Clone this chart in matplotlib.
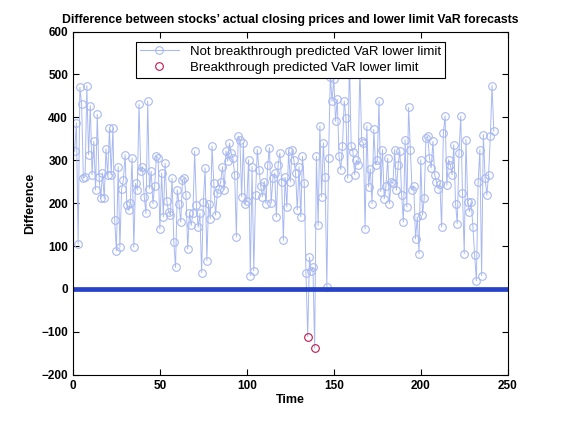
import numpy as np
import matplotlib.pyplot as plt
from matplotlib.lines import Line2D

# difference between actual close and VaR lower limit
seg1 = [321, 387, 105, 470, 431, 258, 262, 474, 313, 427, 266, 344, 231, 407, 262,
        211, 270, 211, 326, 266, 376, 266, 376, 160, 89, 285, 97, 234, 254, 313,
        195, 183, 200, 305, 97, 246, 231, 431, 274, 285, 215, 176, 438, 234, 274,
        199, 239, 309, 305, 140, 270, 168, 293, 205, 180, 172, 258, 109, 50, 231,
        199, 156, 254]
seg2 = [258, 219, 93, 176, 148, 176, 321, 195, 144, 176, 38, 203, 282, 66, 199,
        164, 333, 246, 172, 223, 234, 250, 285, 231, 321, 298, 340, 317, 305, 266,
        121, 356, 348, 215, 340, 199, 205, 301, 31, 285, 42, 219, 325, 278, 240,
        215, 250, 199, 290, 329, 200, 258, 270, 168, 290, 317, 250, 113, 260, 191,
        321, 250]
seg3 = [325, 301, 270, 184, 285, 168, 309, 246, 38, -111, 74, 42, 50, -138, 309,
        148, 380, 215, 340, 260, 5, 305, 495, 438, 490, 391, 442, 309, 278, 333,
        438, 399, 258, 540, 333, 320, 266, 300, 290, 520, 345, 340, 140, 380, 238,
        280, 199, 372, 290, 300, 438, 227, 325, 210, 240, 305, 199, 250, 246, 325,
        230, 290]
seg4 = [321, 219, 156, 348, 191, 423, 325, 231, 240, 117, 168, 82, 301, 172, 211,
        352, 356, 305, 282, 344, 266, 250, 234, 245, 144, 364, 403, 242, 301, 290,
        266, 336, 199, 152, 317, 403, 223, 82, 348, 203, 180, 203, 144, 78, 19,
        250, 325, 31, 360, 258, 219, 266, 356, 474, 368]

diff = np.array(seg1 + seg2 + seg3 + seg4, dtype=float)
t = np.arange(1, len(diff) + 1)
brk = diff < 0
ok_idx = list(np.where(~brk)[0])

plt.rcParams['font.family'] = ['Liberation Sans', 'DejaVu Sans']

fig = plt.figure(figsize=(5.61, 4.21), dpi=100)
ax = fig.add_axes([0.13, 0.11, 0.775, 0.815])

lc = '#a9b9f0'
ms = 5.5
ax.plot(t, diff, '-', color=lc, lw=0.7, marker='o', ms=ms, mfc='none',
        mec=lc, mew=0.8, markevery=ok_idx)
ax.plot(t[brk], diff[brk], 'o', ms=ms, mfc='none', mec='#c0184a', mew=0.8)
ax.plot([0, 250], [0, 0], '-', color='#2642c8', lw=3.4)

ax.set_xlim(0, 250)
ax.set_ylim(-200, 600)
ax.set_xticks([0, 50, 100, 150, 200, 250])
ax.set_yticks(np.arange(-200, 601, 100))
ax.tick_params(direction='in', top=True, right=True, length=4, width=0.8,
               labelsize=8.5)
for lab in ax.get_xticklabels() + ax.get_yticklabels():
    lab.set_fontweight('bold')
for s in ax.spines.values():
    s.set_linewidth(0.8)

ax.set_title("Difference between stocks\u2019 actual closing prices and lower limit VaR forecasts",
             fontsize=8.8, fontweight='bold', pad=6)
ax.set_xlabel('Time', fontsize=9, fontweight='bold', labelpad=2)
ax.set_ylabel('Difference', fontsize=9, fontweight='bold', labelpad=4)

h1 = Line2D([], [], color=lc, lw=0.8, marker='o', ms=ms, mfc='none', mec=lc, mew=0.8)
h2 = Line2D([], [], ls='none', marker='o', ms=ms, mfc='none', mec='#c0184a', mew=0.8)
leg = ax.legend([h1, h2], ['Not breakthrough predicted VaR lower limit',
                           'Breakthrough predicted VaR lower limit'],
                loc='upper center', bbox_to_anchor=(0.5, 0.99), fontsize=9.5,
                fancybox=False, framealpha=1, edgecolor='black',
                borderpad=0.3, labelspacing=0.3, handlelength=3)
leg.get_frame().set_linewidth(0.8)

fig.savefig('out.png', dpi=100)
